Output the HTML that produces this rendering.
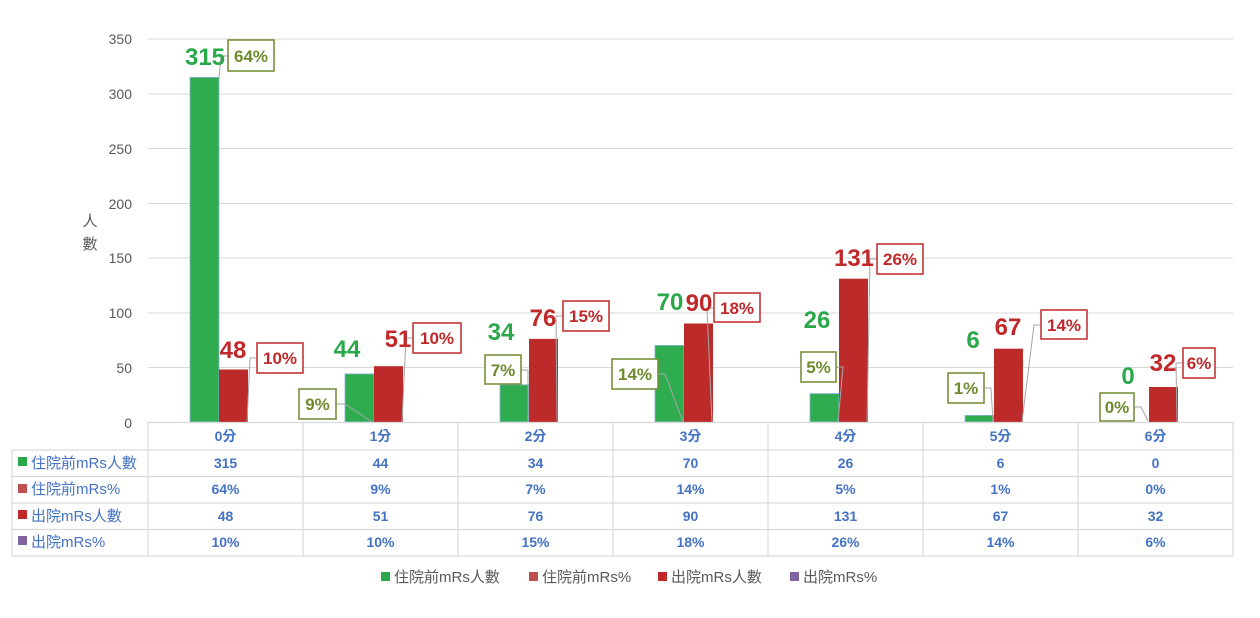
<!DOCTYPE html>
<html><head><meta charset="utf-8"><style>
body{margin:0;background:#fff;}
svg{display:block;font-family:"Liberation Sans","Noto Sans CJK TC",sans-serif;}
.yt{font-size:14px;fill:#595959;text-anchor:end}
.g{fill:#2aa84a;font-size:24px;font-weight:bold;text-anchor:middle}
.r{fill:#c0282a;font-size:24px;font-weight:bold;text-anchor:middle}
.bg{fill:#fff;stroke:#6e8b2e;stroke-width:1.5}
.br{fill:#fff;stroke:#c0282a;stroke-width:1.5}
.tg{fill:#6e8b2e;font-size:17px;font-weight:bold;text-anchor:middle}
.tr{fill:#c0282a;font-size:17px;font-weight:bold;text-anchor:middle}
.ld{stroke:#a6a6a6;stroke-width:1;fill:none}
.tb{fill:#4472c4;font-size:14px;font-weight:bold;text-anchor:middle}
.tl{fill:#4472c4;font-size:15px}
.lg{fill:#595959;font-size:15px}
</style></head><body>
<svg width="1260" height="618" viewBox="0 0 1260 618">
<g stroke="#d9d9d9" stroke-width="1">
<line x1="148" y1="39" x2="1233" y2="39"/><line x1="148" y1="94" x2="1233" y2="94"/>
<line x1="148" y1="148.5" x2="1233" y2="148.5"/><line x1="148" y1="203.5" x2="1233" y2="203.5"/>
<line x1="148" y1="258" x2="1233" y2="258"/><line x1="148" y1="313" x2="1233" y2="313"/>
<line x1="148" y1="367.5" x2="1233" y2="367.5"/>
</g>
<g class="yt">
<text x="132" y="44">350</text><text x="132" y="99">300</text><text x="132" y="154">250</text>
<text x="132" y="209">200</text><text x="132" y="263">150</text><text x="132" y="318">100</text>
<text x="132" y="373">50</text><text x="132" y="428">0</text>
</g>
<text x="90" y="226" font-size="15" fill="#595959" text-anchor="middle">人</text>
<text x="90" y="249" font-size="15" fill="#595959" text-anchor="middle">數</text>
<g fill="#2fac50" stroke="#8ab4d8" stroke-width="0.8">
<rect x="190" y="77.4" width="29" height="344.6"/>
<rect x="345" y="373.9" width="29" height="48.1"/>
<rect x="500" y="384.8" width="29" height="37.2"/>
<rect x="655" y="345.4" width="29" height="76.6"/>
<rect x="810" y="393.6" width="29" height="28.4"/>
<rect x="965" y="415.4" width="29" height="6.6"/>
</g>
<g fill="#bd2a2a">
<rect x="219" y="369.5" width="29" height="52.5"/>
<rect x="374" y="366.2" width="29" height="55.8"/>
<rect x="529" y="338.9" width="29" height="83.1"/>
<rect x="684" y="323.5" width="29" height="98.5"/>
<rect x="839" y="278.7" width="29" height="143.3"/>
<rect x="994" y="348.7" width="29" height="73.3"/>
<rect x="1149" y="387" width="29" height="35"/>
</g>
<g class="ld">
<polyline points="228,56 221,56 219,78"/>
<polyline points="257,358 250,358 247,422"/>
<polyline points="336,404 345,404 372,422"/>
<polyline points="413,338 406,338 402,422"/>
<polyline points="521,370 528,370 528,422"/>
<polyline points="563,316 556,316 557,422"/>
<polyline points="658,374 665,374 683,422"/>
<polyline points="714,308 707,308 712,422"/>
<polyline points="836,367 843,367 838,422"/>
<polyline points="877,259 870,259 867,422"/>
<polyline points="984,388 991,388 993,422"/>
<polyline points="1041,325 1034,325 1022,422"/>
<polyline points="1134,407 1141,407 1148,421"/>
<polyline points="1183,363 1176,363 1177,422"/>
</g>
<text class="g" x="205" y="65">315</text>
<text class="r" x="233" y="358">48</text>
<text class="g" x="347" y="357">44</text>
<text class="r" x="398" y="347">51</text>
<text class="g" x="501" y="340">34</text>
<text class="r" x="543" y="326">76</text>
<text class="g" x="670" y="310">70</text>
<text class="r" x="699" y="311">90</text>
<text class="g" x="817" y="328">26</text>
<text class="r" x="854" y="266">131</text>
<text class="g" x="973" y="348">6</text>
<text class="r" x="1008" y="335">67</text>
<text class="g" x="1128" y="384">0</text>
<text class="r" x="1163" y="371">32</text>
<rect class="bg" x="228" y="40" width="46" height="31"/><text class="tg" x="251" y="62">64%</text>
<rect class="br" x="257" y="343" width="46" height="30"/><text class="tr" x="280" y="364">10%</text>
<rect class="bg" x="299" y="389" width="37" height="30"/><text class="tg" x="317.5" y="410">9%</text>
<rect class="br" x="413" y="323" width="48" height="30"/><text class="tr" x="437" y="344">10%</text>
<rect class="bg" x="485" y="355" width="36" height="29"/><text class="tg" x="503" y="376">7%</text>
<rect class="br" x="563" y="301" width="46" height="30"/><text class="tr" x="586" y="322">15%</text>
<rect class="bg" x="612" y="359" width="46" height="30"/><text class="tg" x="635" y="380">14%</text>
<rect class="br" x="714" y="293" width="46" height="29"/><text class="tr" x="737" y="314">18%</text>
<rect class="bg" x="801" y="352" width="35" height="30"/><text class="tg" x="818.5" y="373">5%</text>
<rect class="br" x="877" y="244" width="46" height="30"/><text class="tr" x="900" y="265">26%</text>
<rect class="bg" x="948" y="373" width="36" height="30"/><text class="tg" x="966" y="394">1%</text>
<rect class="br" x="1041" y="310" width="46" height="29"/><text class="tr" x="1064" y="331">14%</text>
<rect class="bg" x="1100" y="393" width="34" height="28"/><text class="tg" x="1117" y="413">0%</text>
<rect class="br" x="1183" y="348" width="32" height="30"/><text class="tr" x="1199" y="369">6%</text>
<g stroke="#d9d9d9" stroke-width="1.2" fill="none">
<line x1="148" y1="422.5" x2="1233" y2="422.5"/>
<line x1="12" y1="450" x2="1233" y2="450"/>
<line x1="12" y1="476.5" x2="1233" y2="476.5"/>
<line x1="12" y1="503" x2="1233" y2="503"/>
<line x1="12" y1="529.5" x2="1233" y2="529.5"/>
<line x1="12" y1="556" x2="1233" y2="556"/>
<line x1="12" y1="450" x2="12" y2="556"/>
<line x1="148" y1="422" x2="148" y2="556"/><line x1="303" y1="422" x2="303" y2="556"/>
<line x1="458" y1="422" x2="458" y2="556"/><line x1="613" y1="422" x2="613" y2="556"/>
<line x1="768" y1="422" x2="768" y2="556"/><line x1="923" y1="422" x2="923" y2="556"/>
<line x1="1078" y1="422" x2="1078" y2="556"/><line x1="1233" y1="422" x2="1233" y2="556"/>
</g>
<g class="tb">
<text x="225.5" y="441">0分</text><text x="380.5" y="441">1分</text><text x="535.5" y="441">2分</text><text x="690.5" y="441">3分</text><text x="845.5" y="441">4分</text><text x="1000.5" y="441">5分</text><text x="1155.5" y="441">6分</text>
<text x="225.5" y="468">315</text><text x="380.5" y="468">44</text><text x="535.5" y="468">34</text><text x="690.5" y="468">70</text><text x="845.5" y="468">26</text><text x="1000.5" y="468">6</text><text x="1155.5" y="468">0</text>
<text x="225.5" y="494">64%</text><text x="380.5" y="494">9%</text><text x="535.5" y="494">7%</text><text x="690.5" y="494">14%</text><text x="845.5" y="494">5%</text><text x="1000.5" y="494">1%</text><text x="1155.5" y="494">0%</text>
<text x="225.5" y="521">48</text><text x="380.5" y="521">51</text><text x="535.5" y="521">76</text><text x="690.5" y="521">90</text><text x="845.5" y="521">131</text><text x="1000.5" y="521">67</text><text x="1155.5" y="521">32</text>
<text x="225.5" y="547">10%</text><text x="380.5" y="547">10%</text><text x="535.5" y="547">15%</text><text x="690.5" y="547">18%</text><text x="845.5" y="547">26%</text><text x="1000.5" y="547">14%</text><text x="1155.5" y="547">6%</text>
</g>
<rect x="18" y="457" width="9" height="9" fill="#2aa84a"/><text class="tl" x="31" y="468">住院前mRs人數</text>
<rect x="18" y="484" width="9" height="9" fill="#c0504d"/><text class="tl" x="31" y="494">住院前mRs%</text>
<rect x="18" y="510" width="9" height="9" fill="#c0282a"/><text class="tl" x="31" y="521">出院mRs人數</text>
<rect x="18" y="536" width="9" height="9" fill="#8064a2"/><text class="tl" x="31" y="547">出院mRs%</text>
<rect x="381" y="572" width="9" height="9" fill="#2aa84a"/><text class="lg" x="394" y="582">住院前mRs人數</text>
<rect x="529" y="572" width="9" height="9" fill="#c0504d"/><text class="lg" x="542" y="582">住院前mRs%</text>
<rect x="658" y="572" width="9" height="9" fill="#c0282a"/><text class="lg" x="671" y="582">出院mRs人數</text>
<rect x="790" y="572" width="9" height="9" fill="#8064a2"/><text class="lg" x="803" y="582">出院mRs%</text>
</svg>
</body></html>
